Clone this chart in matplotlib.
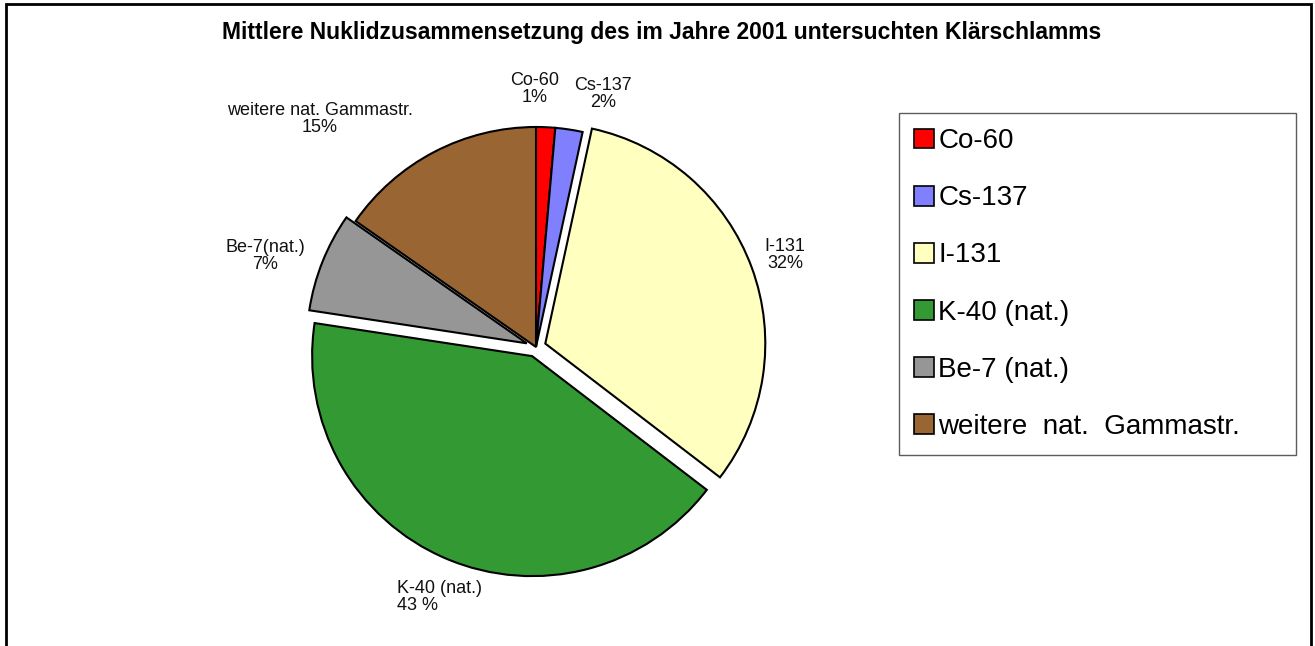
import matplotlib
matplotlib.use("Agg")
from matplotlib import pyplot as plt
from matplotlib.patches import Rectangle

plt.rcParams['font.family'] = ['Liberation Sans', 'DejaVu Sans']

# Daten
nuklide = ["Co-60", "Cs-137", "I-131", "K-40 (nat.)", "Be-7 (nat.)", "weitere  nat.  Gammastr."]
anteile = [1.4, 2.0, 32.0, 42.0, 7.3, 15.3]
anteile_text = ["1%", "2%", "32%", "43 %", "7%", "15%"]
beschriftung = ["Co-60", "Cs-137", "I-131", "K-40 (nat.)", "Be-7(nat.)", "weitere nat. Gammastr."]
farben = ["#FF0000", "#8080FF", "#FFFFC0", "#339933", "#969696", "#996633"]
explode = [0, 0, 0.045, 0.045, 0.045, 0]

# Layout (Pixel)
W, H = 1315, 646
cx, cy, R = 536, 347, 220
half = 300

fig = plt.figure(figsize=(W / 100, H / 100), dpi=100)
ax = fig.add_axes([(cx - half) / W, (H - cy - half) / H, 2 * half / W, 2 * half / H])

wedges, _ = ax.pie(anteile, colors=farben, explode=explode, startangle=90,
                   counterclock=False, radius=1.0,
                   wedgeprops=dict(edgecolor="black", linewidth=1.5))
lim = half / R
ax.set_xlim(-lim, lim)
ax.set_ylim(-lim, lim)
ax.set_aspect("equal")
ax.axis("off")

# Beschriftungspositionen (Pixel im Bild)
lab_px = [(535, 89, "center"), (603, 94, "center"), (785, 255, "center"),
          (397, 597, "left"), (265, 256, "center"), (320, 119, "center")]
for name, txt, (px, py, ha) in zip(beschriftung, anteile_text, lab_px):
    ax.text((px - cx) / R, (cy - py) / R, name + "\n" + txt, ha=ha, va="center",
            fontsize=13, multialignment=ha, linespacing=1.05, color="#111111",
            clip_on=False)

# Titel
fig.text(662 / W, 1 - 33 / H, "Mittlere Nuklidzusammensetzung des im Jahre 2001 untersuchten Klärschlamms",
         ha="center", va="center", fontsize=16.5, fontweight="bold")

# Legende
leg = fig.legend(wedges, nuklide, loc="upper left",
                 bbox_to_anchor=(899 / W, 1 - 452 / H, (1296 - 899) / W, (452 - 113) / H),
                 mode="expand", frameon=True, fancybox=False, fontsize=20,
                 handlelength=0.72, handleheight=0.72, handletextpad=0.15,
                 labelspacing=1.12, borderpad=0.55, borderaxespad=0)
leg.get_frame().set_edgecolor("#333333")
leg.get_frame().set_linewidth(1.0)
for h in leg.legend_handles:
    h.set_linewidth(1.2)

# Rahmen
fig.patches.append(Rectangle((6 / W, -0.05), (1311 - 6) / W, 1.05 - 4 / H,
                             transform=fig.transFigure, fill=False,
                             edgecolor="black", linewidth=2))

fig.savefig("out.png", dpi=100)
